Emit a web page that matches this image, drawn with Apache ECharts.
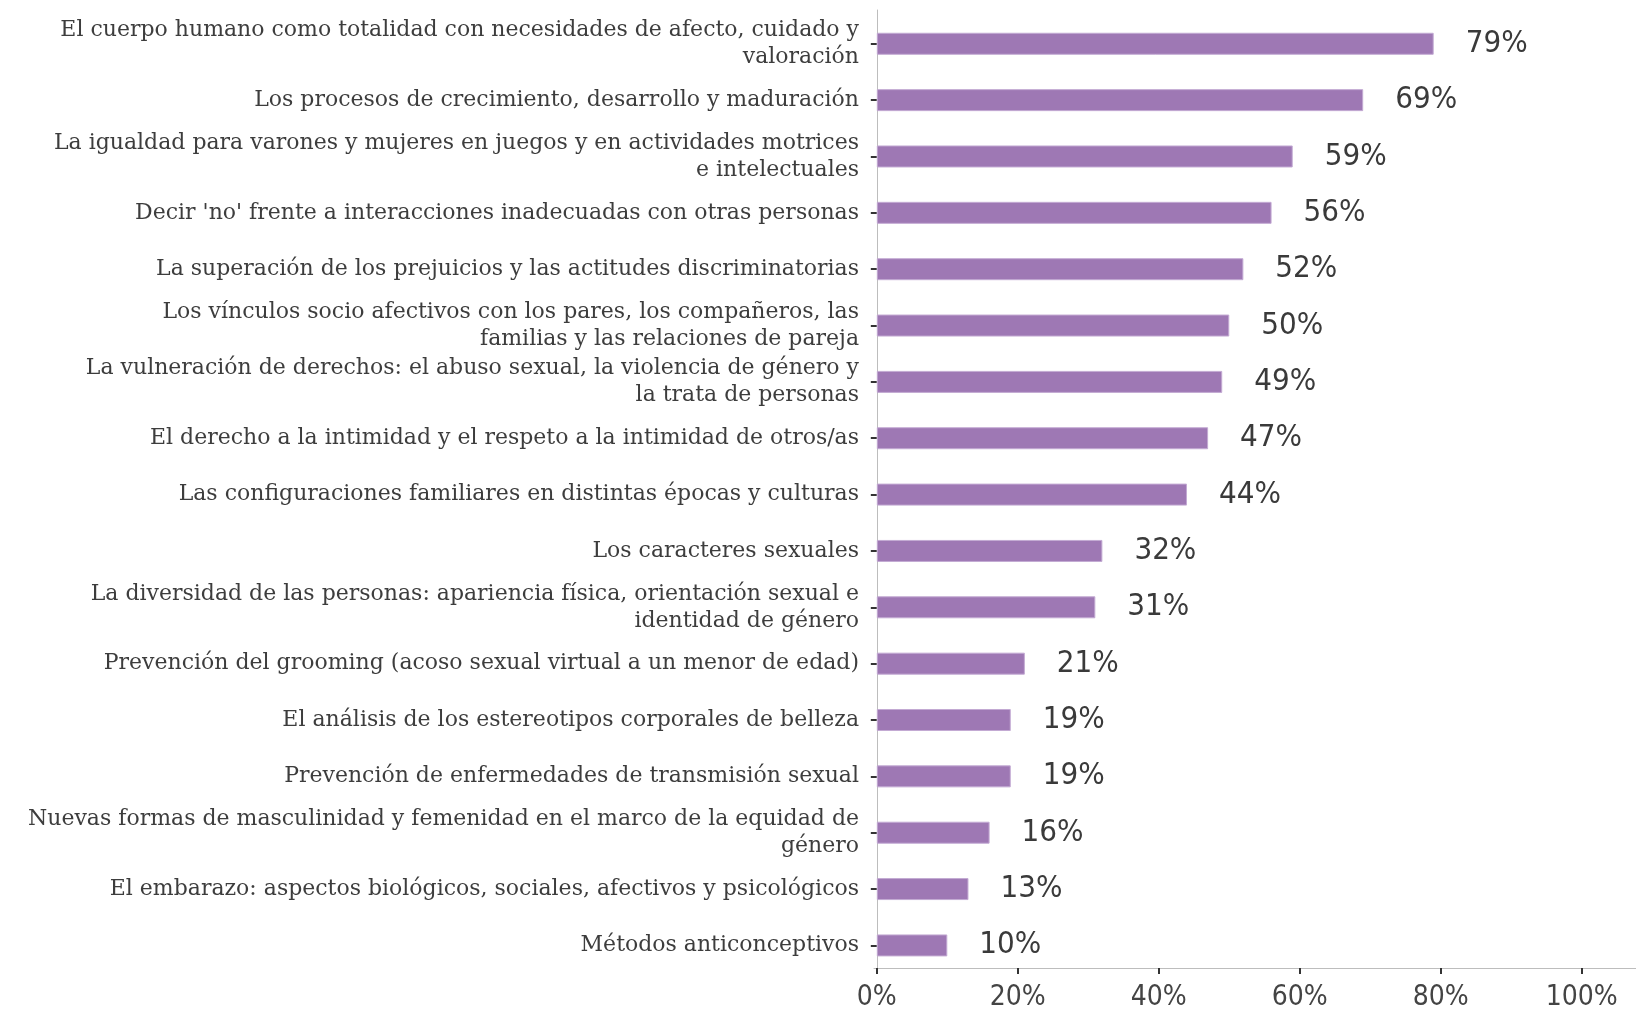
<!DOCTYPE html>
<html>
<head>
<meta charset="utf-8">
<script src="https://cdn.jsdelivr.net/npm/echarts@6/dist/echarts.min.js"></script>
<style>html,body{margin:0;padding:0;background:#fff}#c{width:1636px;height:1012px}</style>
</head>
<body>
<div id="c"></div>
<script>
const categories = [
  "El cuerpo humano como totalidad con necesidades de afecto, cuidado y\nvaloración",
  "Los procesos de crecimiento, desarrollo y maduración",
  "La igualdad para varones y mujeres en juegos y en actividades motrices\ne intelectuales",
  "Decir 'no' frente a interacciones inadecuadas con otras personas",
  "La superación de los prejuicios y las actitudes discriminatorias",
  "Los vínculos socio afectivos con los pares, los compañeros, las\nfamilias y las relaciones de pareja",
  "La vulneración de derechos: el abuso sexual, la violencia de género y\nla trata de personas",
  "El derecho a la intimidad y el respeto a la intimidad de otros/as",
  "Las configuraciones familiares en distintas épocas y culturas",
  "Los caracteres sexuales",
  "La diversidad de las personas: apariencia física, orientación sexual e\nidentidad de género",
  "Prevención del grooming (acoso sexual virtual a un menor de edad)",
  "El análisis de los estereotipos corporales de belleza",
  "Prevención de enfermedades de transmisión sexual",
  "Nuevas formas de masculinidad y femenidad en el marco de la equidad de\ngénero",
  "El embarazo: aspectos biológicos, sociales, afectivos y psicológicos",
  "Métodos anticonceptivos"
];
const values = [79, 69, 59, 56, 52, 50, 49, 47, 44, 32, 31, 21, 19, 19, 16, 13, 10];
const xTicks = [0, 20, 40, 60, 80, 100];

const serif = "'DejaVu Serif', 'Liberation Serif', serif";
const narrow = "'Liberation Sans Narrow', 'DejaVu Sans Condensed', 'Roboto', sans-serif";
const chart = echarts.init(document.getElementById('c'));
chart.setOption({
  animation: false,
  backgroundColor: '#ffffff',
  grid: [
    { left: 874, right: 0, top: 15.6, bottom: 38.4, containLabel: false },
    { left: 874, right: 0, top: 10, bottom: 33, containLabel: false }
  ],
  xAxis: [
    { gridIndex: 0, type: 'value', min: -0.4, max: 107.7, show: false },
    {
      gridIndex: 1, type: 'value', min: -0.4, max: 107.7,
      splitLine: { show: false },
      axisLine: { show: true, lineStyle: { color: '#bdbdbd', width: 1 } },
      axisTick: { show: true, length: 6, lineStyle: { color: '#333333', width: 2 }, customValues: xTicks },
      axisLabel: {
        customValues: xTicks, formatter: v => v + '%', margin: 16,
        fontFamily: narrow, fontSize: 28, color: '#444444'
      }
    }
  ],
  yAxis: [
    {
      gridIndex: 0, type: 'category', data: categories, inverse: true,
      axisLine: { show: false },
      axisTick: { show: true, alignWithLabel: true, length: 6, lineStyle: { color: '#333333', width: 2 } },
      axisLabel: {
        margin: 15, fontFamily: serif, fontSize: 22, color: '#3d3d3d',
        lineHeight: 27, align: 'right'
      }
    },
    {
      gridIndex: 1, type: 'value', min: 0, max: 1,
      splitLine: { show: false },
      axisLine: { show: true, lineStyle: { color: '#bdbdbd', width: 1 } },
      axisTick: { show: false }, axisLabel: { show: false }
    }
  ],
  series: [{
    type: 'bar', xAxisIndex: 0, yAxisIndex: 0,
    data: values, barWidth: 22,
    itemStyle: { color: '#9e78b4', borderColor: '#c3aad3', borderWidth: 1 },
    label: {
      show: true, position: 'right', distance: 32,
      formatter: p => p.value + '%',
      fontFamily: narrow, fontSize: 31, color: '#3a3a3a'
    }
  }]
});
</script>
</body>
</html>
